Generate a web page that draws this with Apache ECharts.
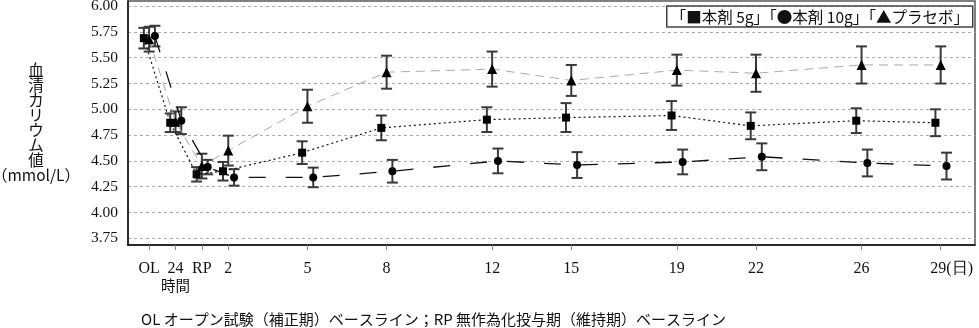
<!DOCTYPE html>
<html>
<head>
<meta charset="utf-8">
<script src="https://cdn.jsdelivr.net/npm/echarts@6/dist/echarts.min.js"></script>
<style>html,body{margin:0;padding:0;background:#fff}#c{width:979px;height:328px}</style>
</head>
<body>
<div id="c"></div>
<script>
// x positions (day index: OL=-1, 24h=0, RP=1, then days)
const days = [-1, 0, 1, 2, 5, 8, 12, 15, 19, 22, 26, 29];
const dayLabels = ['OL', '24\n{j|時間}', 'RP', '2', '5', '8', '12', '15', '19', '22', '26', '{p|}29(日)'];
const yTicks = [3.75, 4.00, 4.25, 4.50, 4.75, 5.00, 5.25, 5.50, 5.75, 6.00];

const g5Mean  = [5.69, 4.87, 4.37, 4.40, 4.58, 4.82, 4.90, 4.92, 4.94, 4.84, 4.89, 4.87];
const g5Err   = [0.10, 0.09, 0.07, 0.09, 0.11, 0.12, 0.12, 0.14, 0.14, 0.13, 0.12, 0.13];
const g10Mean = [5.71, 4.89, 4.44, 4.34, 4.34, 4.40, 4.50, 4.46, 4.49, 4.54, 4.48, 4.45];
const g10Err  = [0.10, 0.13, 0.07, 0.08, 0.095, 0.11, 0.12, 0.125, 0.12, 0.13, 0.13, 0.13];
const plMean  = [5.68, 4.88, 4.45, 4.60, 5.03, 5.36, 5.39, 5.28, 5.38, 5.35, 5.43, 5.43];
const plErr   = [0.12, 0.10, 0.12, 0.145, 0.16, 0.16, 0.17, 0.15, 0.15, 0.18, 0.18, 0.18];

const legendText = '「■本剤 5g」「●本剤 10g」「▲プラセボ」';
const yName = '血\n清\nカ\nリ\nウ\nム\n値\n（mmol/L）';
const footnote = 'OL オープン試験（補正期）ベースライン；RP 無作為化投与期（維持期）ベースライン';

// horizontal jitter per group (in day units) so the groups don't overlap
const JIT = { g5: -0.2, g10: 0.22, pl: 0 };

function pts(mean, jit) { return days.map((d, i) => [d + jit, mean[i]]); }
function errs(mean, err, jit) { return days.map((d, i) => [d + jit, mean[i] - err[i], mean[i] + err[i]]); }

function errRender(params, api) {
  const x = api.value(0), lo = api.value(1), hi = api.value(2);
  const a = api.coord([x, hi]), b = api.coord([x, lo]);
  const hw = 5.5;
  const st = { stroke: '#3a3a3a', lineWidth: 2 };
  return { type: 'group', children: [
    { type: 'line', shape: { x1: a[0], y1: a[1], x2: b[0], y2: b[1] }, style: st },
    { type: 'line', shape: { x1: a[0] - hw, y1: a[1], x2: a[0] + hw, y2: a[1] }, style: st },
    { type: 'line', shape: { x1: b[0] - hw, y1: b[1], x2: b[0] + hw, y2: b[1] }, style: st }
  ]};
}

const serif = '"Liberation Serif", "Times New Roman", serif';
const cjk = '"Noto Sans CJK JP", "Noto Sans", sans-serif';

const chart = echarts.init(document.getElementById('c'), null, { renderer: 'canvas' });
chart.setOption({
  animation: false,
  backgroundColor: '#fff',
  title: [
    { text: legendText, right: 6, top: 6, padding: [2, 4, 1, 4], borderColor: '#444', borderWidth: 1.5,
      textStyle: { fontFamily: cjk, fontSize: 15.5, fontWeight: 'normal', color: '#111', lineHeight: 18 } },
    { text: footnote, left: 136, top: 307,
      textStyle: { fontFamily: cjk, fontSize: 15, fontWeight: 'normal', color: '#111' } }
  ],
  grid: { left: 128, right: 4, top: 1, bottom: 83, show: true, borderColor: '#555', borderWidth: 1.5,
    containLabel: false, outerBoundsMode: 'none' },
  xAxis: {
    type: 'value', min: -1.8, max: 30.3,
    axisLine: { show: true, onZero: false, lineStyle: { color: '#111', width: 1.5 } },
    axisTick: { show: true, customValues: days, length: 5, lineStyle: { color: '#888' } },
    axisLabel: {
      customValues: days, margin: 15, color: '#111', fontFamily: serif, fontSize: 16, lineHeight: 17,
      formatter: v => dayLabels[days.indexOf(v)],
      rich: { j: { fontFamily: cjk, fontSize: 14.5, lineHeight: 17 }, p: { width: 22 } }
    },
    splitLine: { show: false }
  },
  yAxis: {
    type: 'value', min: 3.685, max: 6.05,
    name: yName, nameLocation: 'middle', nameRotate: 0, nameGap: 92,
    nameTextStyle: { fontFamily: cjk, fontSize: 15.5, lineHeight: 15, align: 'center', color: '#111' },
    axisLine: { show: true, onZero: false, lineStyle: { color: '#111', width: 1.5 } },
    axisTick: { show: false, customValues: yTicks },
    axisLabel: { customValues: yTicks, margin: 10, color: '#111', fontFamily: serif, fontSize: 15.5,
      formatter: v => v.toFixed(2) },
    splitLine: { show: true, lineStyle: { color: '#aaa', type: [3, 3], width: 1 } }
  },
  series: [
    { type: 'line', data: pts(plMean, JIT.pl), symbol: 'triangle', symbolSize: 10,
      itemStyle: { color: '#000' }, lineStyle: { color: '#aaa', width: 1, type: [9, 6] }, z: 3 },
    { type: 'line', data: pts(g5Mean, JIT.g5), symbol: 'rect', symbolSize: 8,
      itemStyle: { color: '#000' }, lineStyle: { color: '#111', width: 1.2, type: [2, 3] }, z: 3 },
    { type: 'line', data: pts(g10Mean, JIT.g10), symbol: 'circle', symbolSize: 8,
      itemStyle: { color: '#000' }, lineStyle: { color: '#111', width: 1.3, type: [17, 20] }, z: 3 },
    { type: 'custom', renderItem: errRender, data: errs(plMean, plErr, JIT.pl), encode: { x: 0, y: [1, 2] }, z: 2 },
    { type: 'custom', renderItem: errRender, data: errs(g5Mean, g5Err, JIT.g5), encode: { x: 0, y: [1, 2] }, z: 2 },
    { type: 'custom', renderItem: errRender, data: errs(g10Mean, g10Err, JIT.g10), encode: { x: 0, y: [1, 2] }, z: 2 }
  ]
});
</script>
</body>
</html>
